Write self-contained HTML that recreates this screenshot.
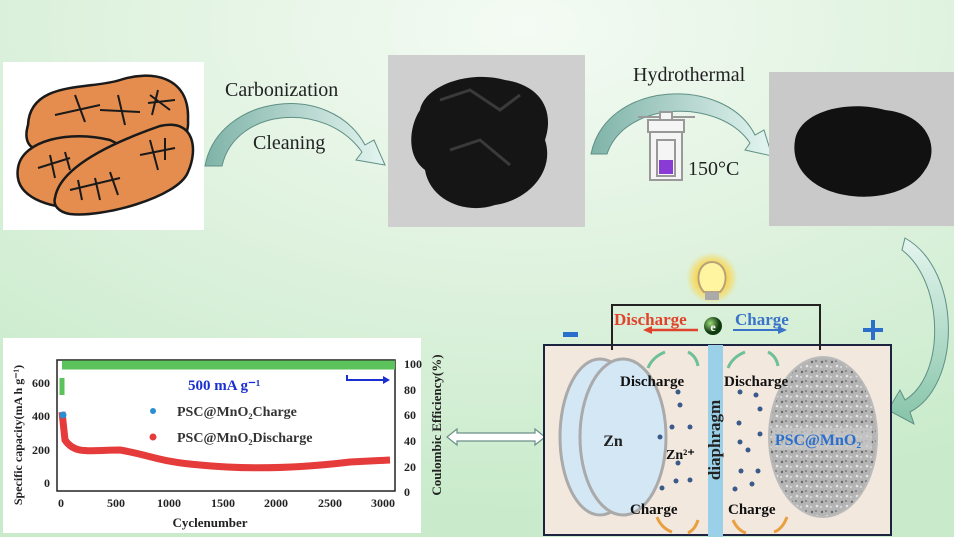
<!DOCTYPE html>
<html><head><meta charset="utf-8"><style>
html,body{margin:0;padding:0;width:954px;height:537px;overflow:hidden}
svg text{font-family:"Liberation Serif",serif}
</style></head><body>
<svg width="954" height="537" viewBox="0 0 954 537" xmlns="http://www.w3.org/2000/svg">
<defs>
<radialGradient id="bg" cx="0.55" cy="0.05" r="0.9">
<stop offset="0" stop-color="#f4fbf4"/><stop offset="0.5" stop-color="#dff2df"/><stop offset="1" stop-color="#c9ebcb"/>
</radialGradient>
<linearGradient id="arr" x1="0" x2="1"><stop offset="0" stop-color="#7fb3a8"/><stop offset="1" stop-color="#e4f5f0"/></linearGradient>
<linearGradient id="arr2" x1="0" y1="0" x2="0" y2="1"><stop offset="0" stop-color="#e4f5ef"/><stop offset="1" stop-color="#86c4a8"/></linearGradient>
<radialGradient id="glow"><stop offset="0" stop-color="#fff27a"/><stop offset="0.6" stop-color="#ffd23a" stop-opacity="0.8"/><stop offset="1" stop-color="#ffd23a" stop-opacity="0"/></radialGradient>
<radialGradient id="eball" cx="0.35" cy="0.35"><stop offset="0" stop-color="#9fdb7a"/><stop offset="1" stop-color="#0f3b10"/></radialGradient>
<pattern id="grain" width="10" height="10" patternUnits="userSpaceOnUse"><rect width="10" height="10" fill="#b4b4b4"/><circle cx="2" cy="2" r="1.2" fill="#666"/><circle cx="7" cy="6" r="1.3" fill="#e6e6e6"/><circle cx="6" cy="1" r="0.8" fill="#555"/><circle cx="1" cy="7" r="1" fill="#ddd"/></pattern>
</defs>
<rect width="954" height="537" fill="url(#bg)"/>

<!-- potato panel -->
<rect x="3" y="62" width="201" height="168" fill="#fff"/>
<g stroke="#1a1a1a" stroke-width="2.5" fill="#e58d4e">
<path d="M28 125 C30 80 90 90 120 80 C150 70 190 75 188 120 C190 150 160 150 130 148 L40 150 C25 148 25 135 28 125Z"/>
<path d="M18 168 C22 140 70 130 110 140 L130 150 L80 208 C50 208 13 198 18 168Z"/>
<path d="M55 198 C60 165 120 140 160 126 C195 118 198 150 188 172 C178 198 100 218 70 214 C58 212 53 205 55 198Z"/>
</g>
<g stroke="#1a1a1a" stroke-width="2" fill="none">
<path d="M55 115 L100 105 M75 95 L85 122 M100 110 L140 112 M118 95 L125 125 M150 95 L170 110 M158 90 L152 115 M148 103 L175 100"/>
<path d="M38 168 L70 158 M50 155 L55 178 M65 152 L70 170"/>
<path d="M70 190 L120 178 M78 180 L82 200 M95 178 L100 200 M110 172 L118 195 M140 155 L175 148 M150 140 L158 170 M165 138 L165 160"/>
</g>

<!-- arrow 1 -->
<path d="M205 166 C218 95 330 80 365 145 L374 140 L385 165 L356 160 L362 152 C325 100 235 108 222 166Z" fill="url(#arr)" stroke="#5f8f85" stroke-width="1"/>
<text x="225" y="96" font-size="20" fill="#222">Carbonization</text>
<text x="253" y="149" font-size="20" fill="#222">Cleaning</text>

<!-- carbon photo -->
<rect x="388" y="55" width="197" height="172" fill="#cfcfcf"/>
<path d="M420 110 C425 85 470 70 505 80 C540 85 555 110 545 140 C555 170 530 200 495 205 C465 215 430 200 425 170 C405 155 410 125 420 110Z" fill="#151515"/>
<path d="M440 100 L470 90 L500 110 L520 95 M450 150 L480 140 L510 165" stroke="#3a3a3a" stroke-width="3" fill="none"/>

<!-- arrow 2 -->
<path d="M591 154 C606 80 725 75 755 135 L764 130 L772 156 L745 150 L750 143 C720 98 625 100 607 154Z" fill="url(#arr)" stroke="#5f8f85" stroke-width="1"/>
<text x="633" y="81" font-size="20" fill="#222">Hydrothermal</text>
<g stroke="#999" stroke-width="2" fill="#f5f5f5">
<line x1="638" y1="117" x2="695" y2="117"/>
<rect x="660" y="112" width="12" height="8"/>
<rect x="648" y="120" width="36" height="12"/>
<rect x="650" y="132" width="32" height="48"/>
<rect x="657" y="140" width="18" height="36"/>
</g>
<rect x="659" y="160" width="14" height="14" fill="#8a3bd6"/>
<text x="688" y="175" font-size="20" fill="#222">150°C</text>

<!-- powder photo -->
<rect x="769" y="72" width="185" height="154" fill="#c9c9c9"/>
<path d="M795 140 C800 110 850 100 885 110 C930 115 940 150 925 170 C910 195 870 200 845 195 C815 190 790 170 795 140Z" fill="#111"/>

<!-- down arrow right -->
<path d="M905 238 C962 270 962 385 910 412 L914 424 L888 410 L900 390 L905 400 C946 375 944 282 902 250Z" fill="url(#arr2)" stroke="#5f8f85" stroke-width="1"/>

<!-- chart panel -->
<rect x="3" y="338" width="418" height="195" fill="#fff"/>
<g font-weight="bold" font-size="12" fill="#222">
<rect x="57" y="360" width="338" height="131" fill="none" stroke="#222" stroke-width="1.5"/>
<text x="61" y="507" text-anchor="middle">0</text><text x="116" y="507" text-anchor="middle">500</text>
<text x="169" y="507" text-anchor="middle">1000</text><text x="223" y="507" text-anchor="middle">1500</text>
<text x="276" y="507" text-anchor="middle">2000</text><text x="330" y="507" text-anchor="middle">2500</text>
<text x="383" y="507" text-anchor="middle">3000</text>
<text x="210" y="527" text-anchor="middle" font-size="13">Cyclenumber</text>
<text x="50" y="487" text-anchor="end">0</text><text x="50" y="454" text-anchor="end">200</text>
<text x="50" y="420" text-anchor="end">400</text><text x="50" y="387" text-anchor="end">600</text>
<text x="404" y="368">100</text><text x="404" y="394">80</text><text x="404" y="419">60</text>
<text x="404" y="445">40</text><text x="404" y="471">20</text><text x="404" y="496">0</text>
<text transform="translate(22 435) rotate(-90)" text-anchor="middle">Specific capacity(mA h g⁻¹)</text>
<text transform="translate(441 425) rotate(-90)" text-anchor="middle" font-size="13">Coulombic Efficiency(%)</text>
</g>
<path d="M62 365 L395 365" stroke="#5cc25c" stroke-width="9"/>
<path d="M62 378 L62 395" stroke="#5cc25c" stroke-width="5"/>
<path d="M62 412 L65 440 C75 455 90 450 120 450 C150 455 160 462 200 465 C250 470 300 468 350 462 L390 460" stroke="#e63b3b" stroke-width="7" fill="none"/>
<circle cx="63" cy="415" r="3.5" fill="#2a8fd0"/>
<path d="M347 375 L347 380 L383 380" stroke="#1a2fd0" stroke-width="2" fill="none"/><path d="M383 376 L390 380 L383 384Z" fill="#1a2fd0"/>
<text x="188" y="390" font-size="15" font-weight="bold" fill="#1a2fd0">500 mA g⁻¹</text>
<circle cx="153" cy="411" r="3" fill="#2a8fd0"/><circle cx="153" cy="437" r="3.5" fill="#e63b3b"/>
<text x="177" y="416" font-size="14" font-weight="bold" fill="#333">PSC@MnO₂Charge</text>
<text x="177" y="442" font-size="14" font-weight="bold" fill="#333">PSC@MnO₂Discharge</text>

<!-- double arrow -->
<path d="M447 437 L457 429 L457 433 L535 433 L535 429 L545 437 L535 445 L535 441 L457 441 L457 445Z" fill="#fff" stroke="#6a8f88" stroke-width="1.2"/>

<!-- battery -->
<rect x="544" y="345" width="347" height="190" fill="#f3e8de" stroke="#1c2340" stroke-width="2"/>
<circle cx="712" cy="278" r="26" fill="url(#glow)"/>
<path d="M704 292 C694 282 698 262 712 262 C726 262 730 282 720 292Z" fill="#fff5a0" stroke="#b8a17a" stroke-width="2"/>
<rect x="705" y="292" width="14" height="8" fill="#aaa"/>
<path d="M612 350 L612 305 L820 305 L820 350" stroke="#222" stroke-width="2" fill="none"/>
<text x="614" y="325" font-size="17" font-weight="bold" fill="#e0432c">Discharge</text>
<text x="735" y="325" font-size="17" font-weight="bold" fill="#3a74c8">Charge</text>
<path d="M698 330 L650 330" stroke="#e0432c" stroke-width="2.5"/><path d="M652 326 L643 330 L652 334Z" fill="#e0432c"/>
<path d="M733 330 L780 330" stroke="#3a74c8" stroke-width="2"/><path d="M778 326 L787 330 L778 334Z" fill="#3a74c8"/>
<circle cx="713" cy="326" r="9" fill="url(#eball)"/><text x="713" y="331" font-size="12" font-weight="bold" fill="#fff" text-anchor="middle">e</text>
<rect x="563" y="332" width="15" height="5" fill="#2a6fcc"/>
<path d="M873 320 L873 340 M863 330 L883 330" stroke="#2a6fcc" stroke-width="4"/>
<rect x="708" y="345" width="15" height="192" fill="#9ad0e8"/>
<text transform="translate(720 440) rotate(-90)" text-anchor="middle" font-size="17" font-weight="bold" fill="#222">diaphragm</text>
<ellipse cx="600" cy="437" rx="40" ry="78" fill="#d4e7f5" stroke="#aaa" stroke-width="3"/>
<ellipse cx="623" cy="437" rx="43" ry="78" fill="#d4e7f5" stroke="#aaa" stroke-width="3"/>
<text x="613" y="446" font-size="16" font-weight="bold" fill="#222" text-anchor="middle">Zn</text>
<ellipse cx="823" cy="437" rx="54" ry="80" fill="url(#grain)" stroke="#bbb" stroke-width="2"/>
<rect x="772" y="428" width="100" height="22" fill="#c8c8c8" opacity="0.7"/>
<text x="818" y="445" font-size="16" font-weight="bold" fill="#2a6fcc" text-anchor="middle">PSC@MnO₂</text>
<text x="620" y="386" font-size="15" font-weight="bold" fill="#111">Discharge</text>
<text x="724" y="386" font-size="15" font-weight="bold" fill="#111">Discharge</text>
<text x="630" y="514" font-size="15" font-weight="bold" fill="#111">Charge</text>
<text x="728" y="514" font-size="15" font-weight="bold" fill="#111">Charge</text>
<text x="666" y="459" font-size="14" font-weight="bold" fill="#111">Zn²⁺</text>
<g fill="#3a5a8a">
<circle cx="678" cy="392" r="2.5"/><circle cx="680" cy="405" r="2.5"/><circle cx="672" cy="427" r="2.5"/><circle cx="690" cy="427" r="2.5"/>
<circle cx="660" cy="437" r="2.5"/><circle cx="678" cy="463" r="2.5"/><circle cx="676" cy="481" r="2.5"/><circle cx="690" cy="480" r="2.5"/><circle cx="662" cy="488" r="2.5"/>
<circle cx="740" cy="392" r="2.5"/><circle cx="756" cy="395" r="2.5"/><circle cx="760" cy="409" r="2.5"/><circle cx="739" cy="423" r="2.5"/><circle cx="760" cy="434" r="2.5"/>
<circle cx="740" cy="442" r="2.5"/><circle cx="748" cy="450" r="2.5"/><circle cx="741" cy="471" r="2.5"/><circle cx="758" cy="471" r="2.5"/><circle cx="752" cy="484" r="2.5"/><circle cx="735" cy="489" r="2.5"/>
</g>
<g stroke="#6fbf9a" stroke-width="3" fill="none">
<path d="M648 368 C652 358 660 354 665 352"/><path d="M688 352 C694 355 697 360 698 366"/>
<path d="M728 368 C732 358 740 354 745 352"/><path d="M768 352 C774 355 777 360 778 366"/>
</g>
<g stroke="#e8a040" stroke-width="3" fill="none">
<path d="M657 517 C660 525 666 530 672 532"/><path d="M698 520 C696 527 692 531 688 533"/>
<path d="M733 520 C736 527 740 531 746 533"/><path d="M787 517 C784 525 780 530 774 532"/>
</g>
</svg>
</body></html>
